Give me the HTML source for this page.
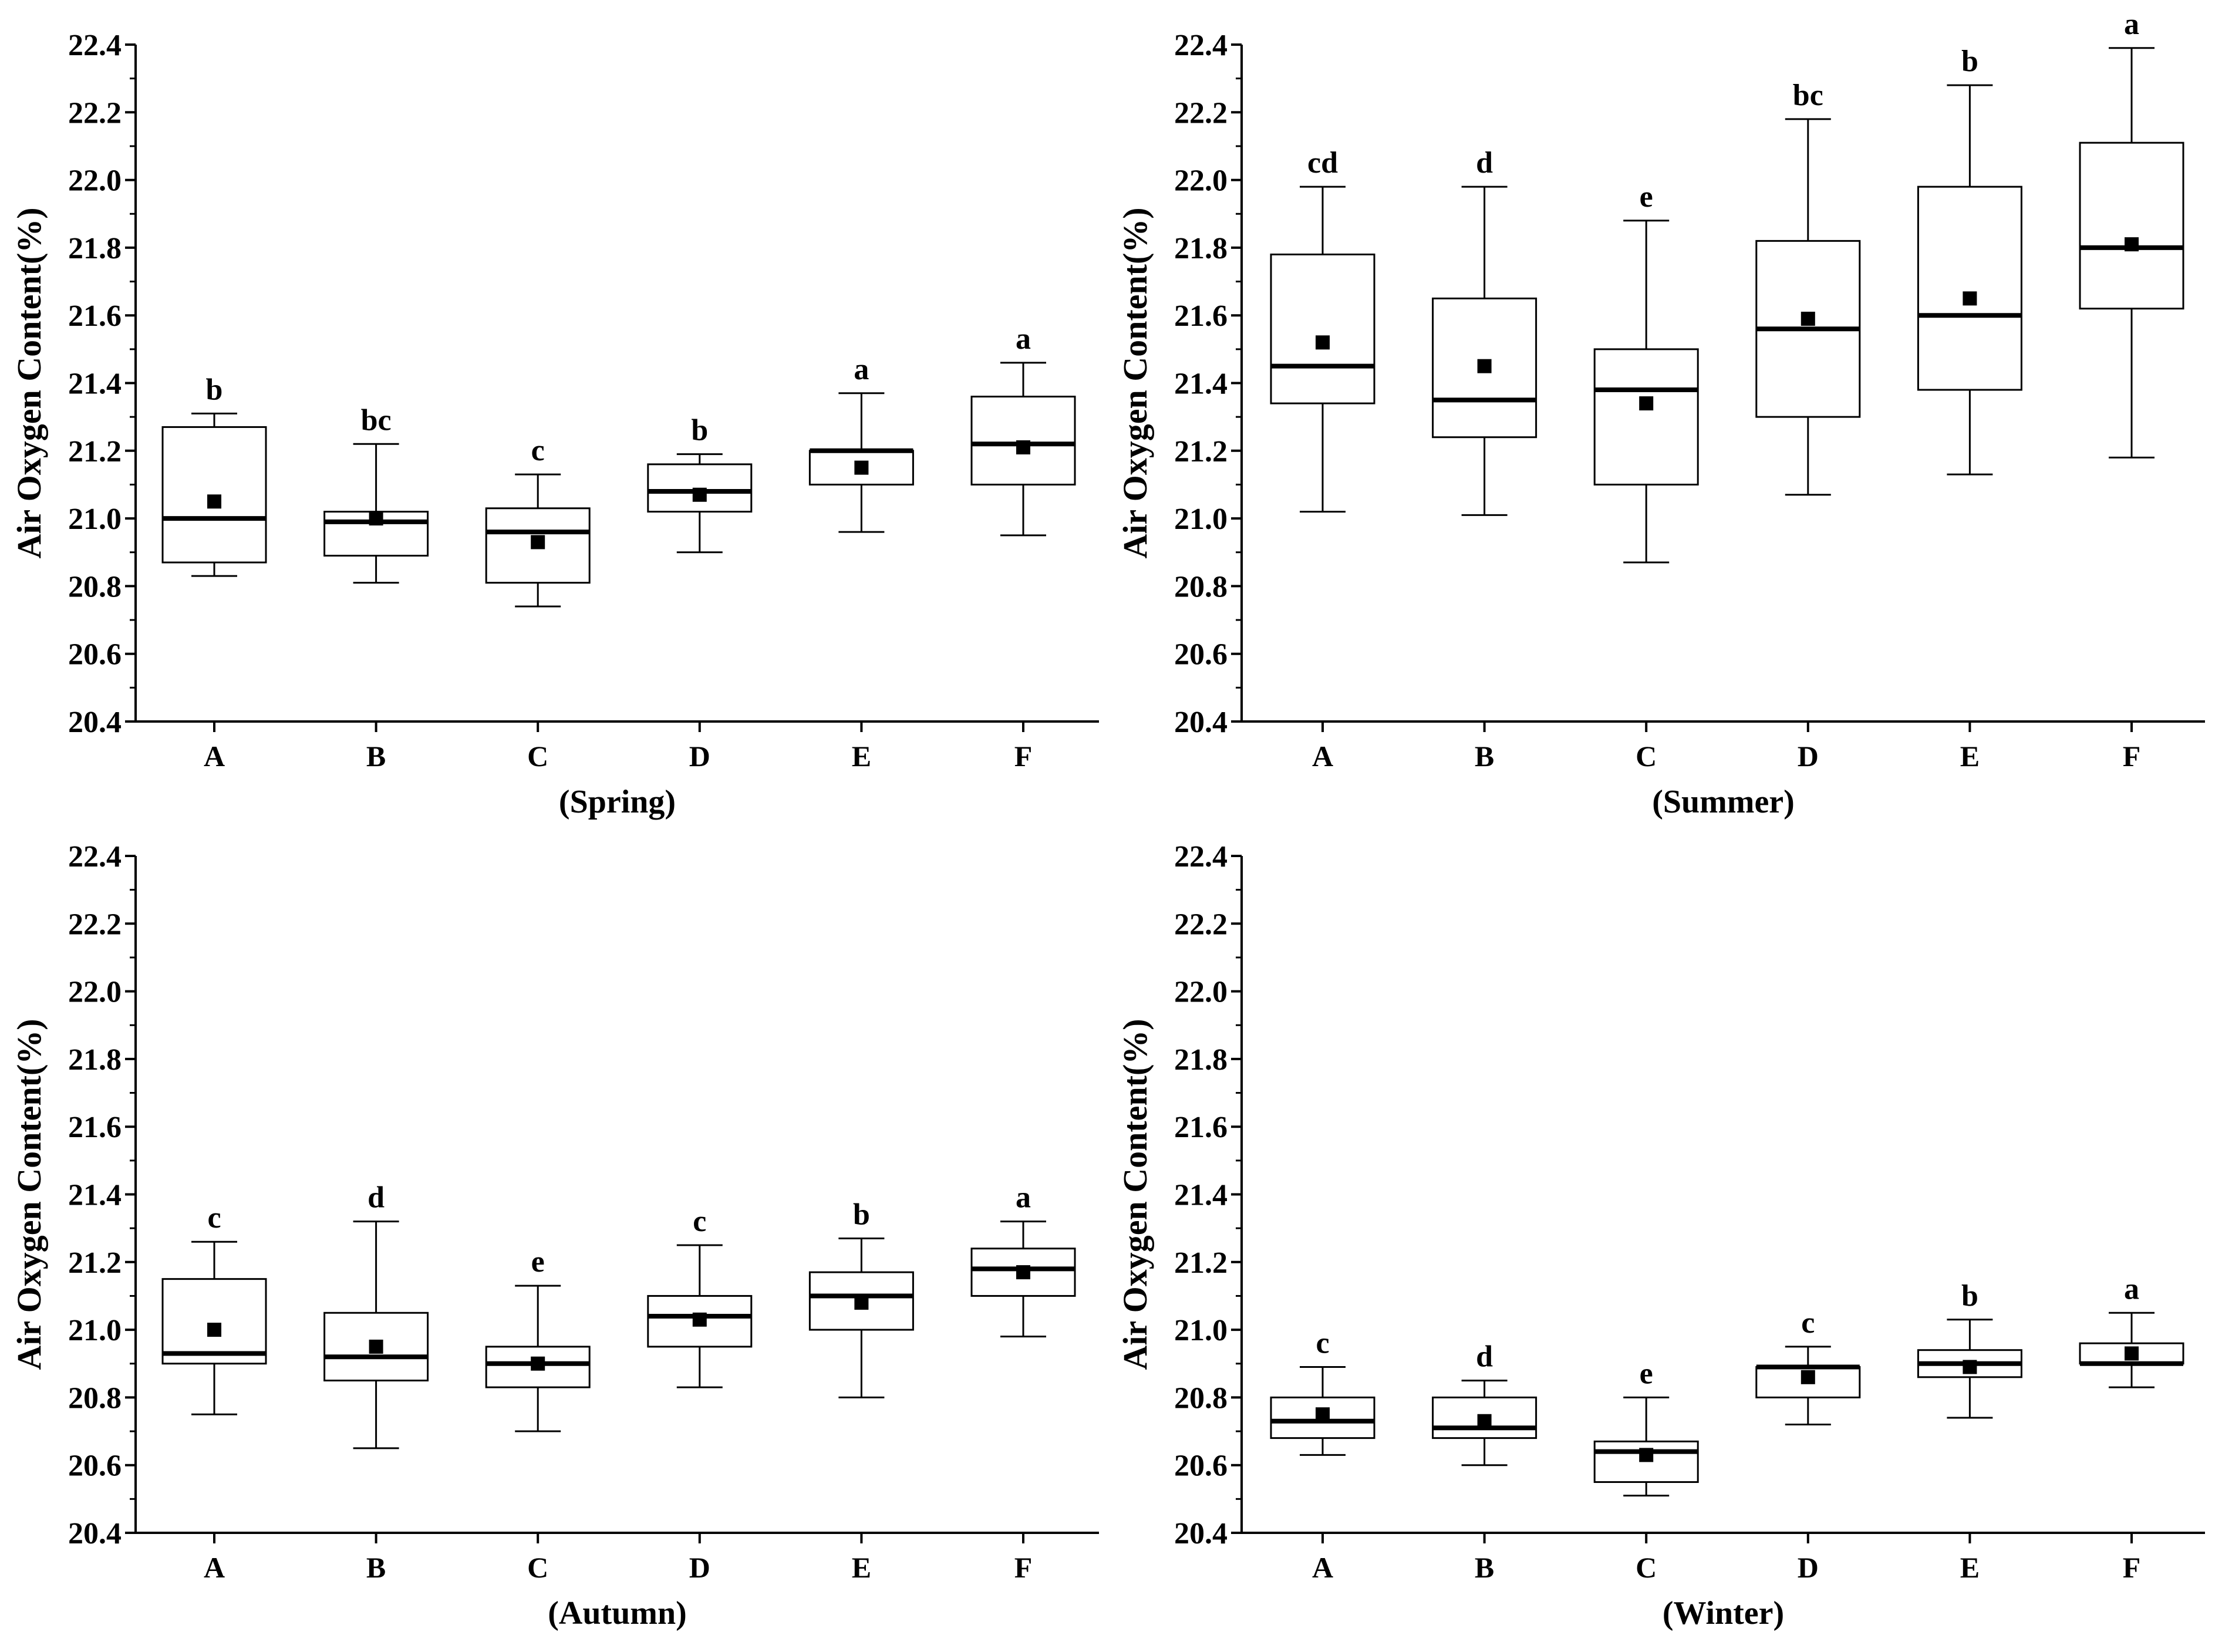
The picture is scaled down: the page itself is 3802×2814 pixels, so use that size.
<!DOCTYPE html>
<html><head><meta charset="utf-8"><style>
html,body{margin:0;padding:0;background:#fff}
svg{display:block}
text{font-family:"Liberation Serif",serif;font-weight:bold;fill:#000}
</style></head><body>
<svg id="fig" width="3802" height="2814" viewBox="0 0 3802 2814" xmlns="http://www.w3.org/2000/svg"></svg>
<script>
const categories = ["A","B","C","D","E","F"];
const yTicks = ["20.4","20.6","20.8","21.0","21.2","21.4","21.6","21.8","22.0","22.2","22.4"];
const seasons = ["(Spring)","(Summer)","(Autumn)","(Winter)"];
const springLow=[20.83,20.81,20.74,20.90,20.96,20.95];
const springQ1=[20.87,20.89,20.81,21.02,21.10,21.10];
const springMed=[21.00,20.99,20.96,21.08,21.20,21.22];
const springQ3=[21.27,21.02,21.03,21.16,21.20,21.36];
const springHigh=[21.31,21.22,21.13,21.19,21.37,21.46];
const springMean=[21.05,21.00,20.93,21.07,21.15,21.21];
const springLetters=["b","bc","c","b","a","a"];
const summerLow=[21.02,21.01,20.87,21.07,21.13,21.18];
const summerQ1=[21.34,21.24,21.10,21.30,21.38,21.62];
const summerMed=[21.45,21.35,21.38,21.56,21.60,21.80];
const summerQ3=[21.78,21.65,21.50,21.82,21.98,22.11];
const summerHigh=[21.98,21.98,21.88,22.18,22.28,22.39];
const summerMean=[21.52,21.45,21.34,21.59,21.65,21.81];
const summerLetters=["cd","d","e","bc","b","a"];
const autumnLow=[20.75,20.65,20.70,20.83,20.80,20.98];
const autumnQ1=[20.90,20.85,20.83,20.95,21.00,21.10];
const autumnMed=[20.93,20.92,20.90,21.04,21.10,21.18];
const autumnQ3=[21.15,21.05,20.95,21.10,21.17,21.24];
const autumnHigh=[21.26,21.32,21.13,21.25,21.27,21.32];
const autumnMean=[21.00,20.95,20.90,21.03,21.08,21.17];
const autumnLetters=["c","d","e","c","b","a"];
const winterLow=[20.63,20.60,20.51,20.72,20.74,20.83];
const winterQ1=[20.68,20.68,20.55,20.80,20.86,20.90];
const winterMed=[20.73,20.71,20.64,20.89,20.90,20.90];
const winterQ3=[20.80,20.80,20.67,20.89,20.94,20.96];
const winterHigh=[20.89,20.85,20.80,20.95,21.03,21.05];
const winterMean=[20.75,20.73,20.63,20.86,20.89,20.93];
const winterLetters=["c","d","e","c","b","a"];

const panelsData=[
 [springLow,springQ1,springMed,springQ3,springHigh,springMean,springLetters],
 [summerLow,summerQ1,summerMed,summerQ3,summerHigh,summerMean,summerLetters],
 [autumnLow,autumnQ1,autumnMed,autumnQ3,autumnHigh,autumnMean,autumnLetters],
 [winterLow,winterQ1,winterMed,winterQ3,winterHigh,winterMean,winterLetters]
];
const layout=[
 {ax:231,top:76,bot:1229,right:1872,x0:365},
 {ax:2115,top:76,bot:1229,right:3756,x0:2253},
 {ax:231,top:1458,bot:2611,right:1872,x0:365},
 {ax:2115,top:1458,bot:2611,right:3756,x0:2253}
];
const NS="http://www.w3.org/2000/svg";
const svg=document.getElementById('fig');
function mk(tag,attrs,parent,txt){const e=document.createElementNS(NS,tag);for(const k in attrs)e.setAttribute(k,attrs[k]);if(txt!==undefined)e.textContent=txt;parent.appendChild(e);return e;}

panelsData.forEach((d,pi)=>{
 const L=layout[pi];
 const step=275.6;
 const yMin=20.4,yMax=22.4;
 const y=v=>L.bot-(v-yMin)/(yMax-yMin)*(L.bot-L.top);
 const x=i=>L.x0+i*step;
 const g=mk('g',{},svg);
 
 
 const ya=mk('line',{x1:L.ax,y1:L.top,x2:L.ax,y2:L.bot,stroke:'#000','stroke-width':4},g);
 
 const xa=mk('line',{x1:L.ax-2,y1:L.bot,x2:L.right,y2:L.bot,stroke:'#000','stroke-width':4},g);
 
 yTicks.forEach((t,i)=>{
  const v=parseFloat(t);const yy=y(v);
  mk('line',{x1:L.ax-18,y1:yy,x2:L.ax,y2:yy,stroke:'#000','stroke-width':4},g);
  if(i<yTicks.length-1){const ym=y(v+0.1);mk('line',{x1:L.ax-10,y1:ym,x2:L.ax,y2:ym,stroke:'#000','stroke-width':3},g);}
  const tl=mk('text',{x:L.ax-24,y:yy+18,'text-anchor':'end','font-size':52},g,t);
  
 });
 const yt=mk('text',{x:0,y:0,'text-anchor':'middle','font-size':58,transform:`translate(${L.ax-162},${(L.top+L.bot)/2}) rotate(-90)`},g,'Air Oxygen Content(%)');
 
 const st=mk('text',{x:(L.ax+L.right)/2,y:L.bot+155,'text-anchor':'middle','font-size':56},g,seasons[pi]);
 
 categories.forEach((c,i)=>{
  const cx=x(i);
  mk('line',{x1:cx,y1:L.bot,x2:cx,y2:L.bot+18,stroke:'#000','stroke-width':4},g);
  const xl=mk('text',{x:cx,y:L.bot+76,'text-anchor':'middle','font-size':50},g,c);
  
  const [lo,q1,md,q3,hi,mn,lt]=[d[0][i],d[1][i],d[2][i],d[3][i],d[4][i],d[5][i],d[6][i]];
  const bg=mk('g',{},g);
  
  const hw=88,cw=39;
  mk('line',{x1:cx,y1:y(hi),x2:cx,y2:y(q3),stroke:'#000','stroke-width':3},bg);
  mk('line',{x1:cx,y1:y(q1),x2:cx,y2:y(lo),stroke:'#000','stroke-width':3},bg);
  mk('line',{x1:cx-cw,y1:y(hi),x2:cx+cw,y2:y(hi),stroke:'#000','stroke-width':3},bg);
  mk('line',{x1:cx-cw,y1:y(lo),x2:cx+cw,y2:y(lo),stroke:'#000','stroke-width':3},bg);
  mk('rect',{x:cx-hw,y:y(q3),width:2*hw,height:y(q1)-y(q3),fill:'none',stroke:'#000','stroke-width':3},bg);
  mk('line',{x1:cx-hw,y1:y(md),x2:cx+hw,y2:y(md),stroke:'#000','stroke-width':8},bg);
  mk('rect',{x:cx-12,y:y(mn)-12,width:24,height:24,fill:'#000'},bg);
  const lb=mk('text',{x:cx,y:y(hi)-24,'text-anchor':'middle','font-size':52},bg,lt);
  
 });
});
</script>
</body></html>
